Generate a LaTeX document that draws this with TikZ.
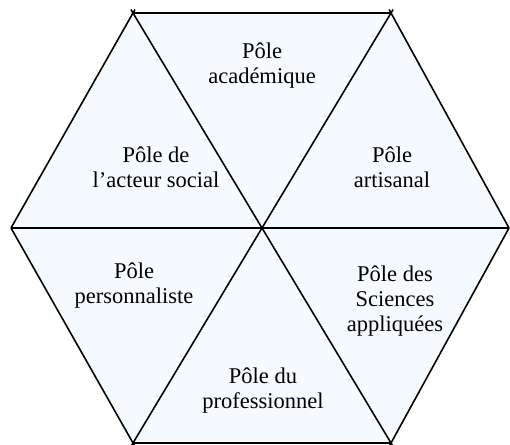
\documentclass[tikz,border=0pt]{standalone}
\usepackage{fontspec}
\setmainfont{Liberation Serif}
\begin{document}
\begin{tikzpicture}[x=1pt,y=-1pt,
  edge/.style={line width=1.6pt,black},
  ext/.style={shorten >=-4pt},
  extb/.style={shorten >=-4pt,shorten <=-4pt},
  label/.style={align=center,inner sep=0pt,font=\fontsize{22.5}{25}\selectfont}]
\definecolor{panel}{RGB}{244,250,253}
\useasboundingbox (0,0) rectangle (510,444);
% hexagon vertices and centre
\coordinate (C)  at (262,228);
\coordinate (L)  at (11,228);
\coordinate (R)  at (509,228);
\coordinate (TL) at (133,13);
\coordinate (TR) at (391,13);
\coordinate (BL) at (133,443);
\coordinate (BR) at (391,443);
% pale fill of the six triangles
\fill[panel] (L) -- (TL) -- (TR) -- (R) -- (BR) -- (BL) -- cycle;
% outline and the three long diagonals
\draw[edge] (TL) -- (TR);
\draw[edge] (BL) -- (BR);
\draw[edge] (L) -- (R);
\draw[edge,ext] (L) -- (TL);
\draw[edge,ext] (L) -- (BL);
\draw[edge,ext] (R) -- (TR);
\draw[edge,ext] (R) -- (BR);
\draw[edge,extb] (TL) -- (BR);
\draw[edge,extb] (TR) -- (BL);
% the six poles
\node[label] (acad)  at (262,66)  {Pôle\\académique};
\node[label] (acteur) at (156,167) {Pôle de\\l’acteur social};
\node[label] (artis) at (392,167) {Pôle\\artisanal};
\node[label] (perso) at (134,286) {Pôle\\personnaliste};
\node[label] (scien) at (395,301) {Pôle des\\Sciences\\appliquées};
\node[label] (prof)  at (263,391) {Pôle du\\professionnel};
\end{tikzpicture}
\end{document}
